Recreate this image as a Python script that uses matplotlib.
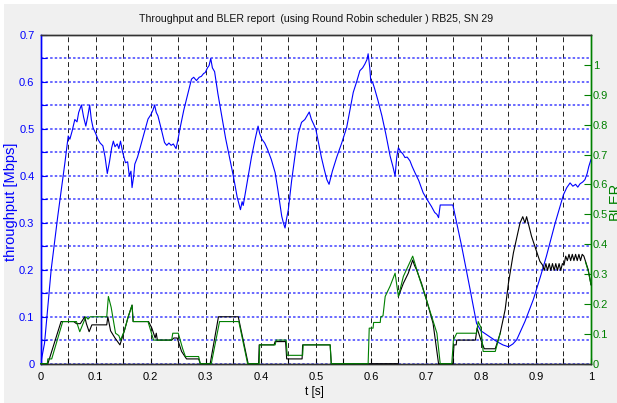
import matplotlib
matplotlib.use('Agg')
import matplotlib.pyplot as plt
from matplotlib.patches import Rectangle
from matplotlib.ticker import FixedLocator

# ---------------- data ----------------
title_text = "Throughput and BLER report  (using Round Robin scheduler ) RB25, SN 29"
x_label = "t [s]"
y_label_left = "throughput [Mbps]"
y_label_right = "BLER"

x_ticks = [0, 0.1, 0.2, 0.3, 0.4, 0.5, 0.6, 0.7, 0.8, 0.9, 1.0]
x_tick_labels = ["0", "0.1", "0.2", "0.3", "0.4", "0.5", "0.6", "0.7", "0.8", "0.9", "1"]
x_grid_minor = [0.05, 0.15, 0.25, 0.35, 0.45, 0.55, 0.65, 0.75, 0.85, 0.95]
left_ticks = [0, 0.1, 0.2, 0.3, 0.4, 0.5, 0.6, 0.7]
left_tick_labels = ["0", "0.1", "0.2", "0.3", "0.4", "0.5", "0.6", "0.7"]
left_grid_minor = [0.05, 0.15, 0.25, 0.35, 0.45, 0.55, 0.65]
right_ticks = [0, 0.1, 0.2, 0.3, 0.4, 0.5, 0.6, 0.7, 0.8, 0.9, 1.0]
right_tick_labels = ["0", "0.1", "0.2", "0.3", "0.4", "0.5", "0.6", "0.7", "0.8", "0.9", "1"]

# throughput [Mbps] (left axis)
t_thr = [0, 0.007, 0.019, 0.031, 0.044, 0.05, 0.053, 0.057, 0.062, 0.066, 0.069, 0.074, 0.078,
         0.082, 0.086, 0.089, 0.092, 0.095, 0.1, 0.104, 0.108, 0.113, 0.117, 0.121, 0.125, 0.129,
         0.132, 0.135, 0.139, 0.142, 0.145, 0.149, 0.154, 0.158, 0.161, 0.164, 0.166, 0.169, 0.171,
         0.176, 0.183, 0.189, 0.195, 0.2, 0.204, 0.207, 0.21, 0.213, 0.219, 0.225, 0.229, 0.233,
         0.237, 0.241, 0.246, 0.249, 0.253, 0.26, 0.268, 0.274, 0.278, 0.283, 0.288, 0.292, 0.296,
         0.299, 0.303, 0.306, 0.309, 0.312, 0.316, 0.322, 0.329, 0.336, 0.343, 0.35, 0.357, 0.363,
         0.366, 0.368, 0.375, 0.383, 0.39, 0.395, 0.398, 0.402, 0.407, 0.412, 0.419, 0.426, 0.431,
         0.438, 0.441, 0.444, 0.447, 0.45, 0.456, 0.462, 0.468, 0.474, 0.48, 0.485, 0.488, 0.492,
         0.496, 0.5, 0.505, 0.51, 0.515, 0.52, 0.524, 0.53, 0.538, 0.547, 0.556, 0.562, 0.568,
         0.574, 0.58, 0.585, 0.589, 0.593, 0.595, 0.598, 0.6, 0.603, 0.607, 0.613, 0.62, 0.627,
         0.635, 0.64, 0.644, 0.647, 0.65, 0.654, 0.658, 0.662, 0.666, 0.671, 0.675, 0.68, 0.687,
         0.695, 0.702, 0.71, 0.716, 0.72, 0.723, 0.726, 0.735, 0.749, 0.765, 0.78, 0.792, 0.8,
         0.815, 0.829, 0.84, 0.85, 0.858, 0.865, 0.88, 0.895, 0.908, 0.919, 0.935, 0.95, 0.956,
         0.962, 0.967, 0.972, 0.976, 0.98, 0.985, 0.989, 0.993, 0.996, 1.0]
throughput = [0, 0.044, 0.2, 0.314, 0.428, 0.485, 0.478, 0.495, 0.52, 0.515, 0.535, 0.551, 0.525,
              0.506, 0.53, 0.551, 0.52, 0.503, 0.49, 0.478, 0.47, 0.464, 0.44, 0.405, 0.43, 0.46,
              0.474, 0.462, 0.468, 0.458, 0.474, 0.45, 0.428, 0.43, 0.4, 0.41, 0.375, 0.4, 0.425,
              0.44, 0.47, 0.495, 0.521, 0.53, 0.54, 0.551, 0.535, 0.528, 0.5, 0.471, 0.465, 0.47,
              0.465, 0.468, 0.458, 0.475, 0.5, 0.54, 0.578, 0.606, 0.61, 0.603, 0.61, 0.612, 0.618,
              0.62, 0.63, 0.635, 0.65, 0.63, 0.622, 0.575, 0.528, 0.48, 0.44, 0.4, 0.355, 0.328,
              0.345, 0.337, 0.385, 0.44, 0.48, 0.506, 0.49, 0.478, 0.47, 0.457, 0.435, 0.407, 0.37,
              0.314, 0.3, 0.289, 0.31, 0.328, 0.39, 0.442, 0.49, 0.514, 0.52, 0.53, 0.536, 0.52,
              0.51, 0.499, 0.47, 0.44, 0.415, 0.392, 0.382, 0.41, 0.44, 0.47, 0.503, 0.54, 0.578,
              0.6, 0.624, 0.63, 0.638, 0.648, 0.66, 0.63, 0.599, 0.6, 0.585, 0.56, 0.528, 0.49,
              0.442, 0.42, 0.4, 0.44, 0.46, 0.452, 0.447, 0.439, 0.44, 0.432, 0.42, 0.407, 0.39,
              0.364, 0.35, 0.335, 0.322, 0.318, 0.311, 0.338, 0.338, 0.338, 0.25, 0.16, 0.086, 0.07,
              0.058, 0.047, 0.04, 0.036, 0.042, 0.051, 0.09, 0.136, 0.185, 0.229, 0.3, 0.36, 0.375,
              0.385, 0.378, 0.382, 0.376, 0.383, 0.387, 0.392, 0.405, 0.42, 0.435]

# BLER, black curve (right axis)
t_bler_black = [0, 0.013, 0.037, 0.06, 0.065, 0.072, 0.08, 0.083, 0.088, 0.093, 0.12, 0.122, 0.127,
                0.135, 0.144, 0.152, 0.159, 0.166, 0.168, 0.196, 0.202, 0.208, 0.21, 0.212, 0.238,
                0.242, 0.248, 0.256, 0.265, 0.287, 0.29, 0.308, 0.323, 0.359, 0.377, 0.396, 0.397,
                0.424, 0.426, 0.445, 0.447, 0.475, 0.476, 0.526, 0.528, 0.649, 0.6495, 0.65, 0.659,
                0.668, 0.676, 0.679, 0.683, 0.692, 0.701, 0.713, 0.723, 0.749, 0.751, 0.755, 0.756,
                0.79, 0.793, 0.8, 0.806, 0.826, 0.835, 0.844, 0.85, 0.859, 0.871, 0.876, 0.88, 0.883,
                0.892, 0.907, 0.912, 0.915, 0.918, 0.921, 0.924, 0.927, 0.93, 0.933, 0.936, 0.939,
                0.942, 0.945, 0.948, 0.951, 0.954, 0.957, 0.96, 0.963, 0.966, 0.969, 0.972, 0.975,
                0.978, 0.981, 0.984, 0.987, 0.995, 1.0]
bler_black = [0, 0, 0.141, 0.141, 0.134, 0.134, 0.157, 0.134, 0.107, 0.13, 0.13, 0.157, 0.11,
              0.086, 0.063, 0.11, 0.157, 0.196, 0.141, 0.141, 0.119, 0.086, 0.102, 0.079, 0.079,
              0.086, 0.086, 0.041, 0.016, 0.016, 0, 0, 0.157, 0.157, 0, 0, 0.063,
              0.063, 0.074, 0.074, 0.016, 0.016, 0.063, 0.063, 0, 0, float('nan'), 0.225, 0.269,
              0.303, 0.347, 0.33, 0.314, 0.269, 0.214, 0.135, 0, 0, 0.063, 0.063, 0.079,
              0.079, 0.119, 0.079, 0.05, 0.05, 0.102, 0.181, 0.27, 0.371, 0.471, 0.492, 0.471, 0.492,
              0.426, 0.343, 0.33, 0.312, 0.335, 0.312, 0.335, 0.312, 0.335, 0.312, 0.335, 0.312,
              0.335, 0.312, 0.335, 0.33, 0.36, 0.345, 0.366, 0.345, 0.366, 0.345, 0.366, 0.345,
              0.366, 0.345, 0.366, 0.36, 0.314, 0.264]

# BLER, green curve (right axis)
t_bler_green = [0, 0.012, 0.013, 0.02, 0.04, 0.065, 0.071, 0.082, 0.086, 0.09, 0.12, 0.123, 0.128,
                0.136, 0.142, 0.145, 0.152, 0.159, 0.166, 0.168, 0.195, 0.205, 0.238, 0.24, 0.25,
                0.258, 0.263, 0.287, 0.29, 0.31, 0.325, 0.36, 0.376, 0.397, 0.398, 0.426, 0.428,
                0.446, 0.448, 0.476, 0.477, 0.526, 0.528, 0.595, 0.597, 0.604, 0.605, 0.617, 0.618,
                0.622, 0.626, 0.635, 0.644, 0.65, 0.659, 0.676, 0.689, 0.701, 0.72, 0.726, 0.747,
                0.75, 0.756, 0.792, 0.795, 0.8, 0.804, 0.826, 0.835, 0.836, 0.99, 0.995, 1.0]
bler_green = [0, 0, 0.016, 0.016, 0.141, 0.141, 0.107, 0.157, 0.149, 0.157, 0.157, 0.225, 0.189,
              0.102, 0.094, 0.079, 0.11, 0.157, 0.196, 0.141, 0.141, 0.079, 0.079, 0.102, 0.102,
              0.05, 0.024, 0.024, 0, 0, 0.141, 0.141, 0, 0, 0.063, 0.063, 0.079,
              0.079, 0.028, 0.028, 0.063, 0.063, 0, 0, 0.119, 0.119, 0.138, 0.138, 0.157,
              0.16, 0.225, 0.26, 0.303, 0.225, 0.292, 0.36, 0.281, 0.214, 0.102, 0, 0,
              0.079, 0.102, 0.102, 0.141, 0.121, 0.041, 0.041, 0.102, float('nan'), 0.34, 0.31, 0.265]

# ---------------- style ----------------
BLUE = (0.0, 0.0, 1.0)
GREEN = (0.0, 0.5, 0.0)
FONT = ['Liberation Sans', 'DejaVu Sans']
plt.rcParams['font.family'] = FONT

W, H = 617, 403
X0, X1, Y0, Y1 = 40.7, 591.0, 35.0, 363.7

fig = plt.figure(figsize=(W / 100, H / 100), dpi=100, facecolor='white')
fig.patches.append(Rectangle((4 / W, 0), 1, 1 - 4 / H, transform=fig.transFigure,
                             facecolor='#f0f0f0', edgecolor='none', zorder=-10))

ax = fig.add_axes([X0 / W, 1 - Y1 / H, (X1 - X0) / W, (Y1 - Y0) / H])
ax.set_facecolor('white')
ax2 = ax.twinx()

ax.set_xlim(0, 1)
ax.set_ylim(0, 0.7)
ax2.set_ylim(0, 1.1)

# grid
ax.xaxis.set_major_locator(FixedLocator(x_ticks))
ax.xaxis.set_minor_locator(FixedLocator(x_grid_minor))
ax.set_xticklabels(x_tick_labels)
ax.yaxis.set_major_locator(FixedLocator(left_ticks))
ax.yaxis.set_minor_locator(FixedLocator(left_grid_minor))
ax.set_yticklabels(left_tick_labels)
ax.grid(True, axis='x', which='both', color='#222222', linestyle=(0, (5, 3.5)), linewidth=0.7)
ax.grid(True, axis='y', which='both', color=(0.25, 0.25, 1.0), linestyle=(0, (1.6, 1.4)), linewidth=1.1)

ax2.set_yticks(right_ticks)
ax2.set_yticklabels(right_tick_labels)

# ticks
ax.tick_params(axis='x', which='both', direction='in', length=4, width=0.8, colors='black',
               labelsize=8, pad=6)
ax.tick_params(axis='y', which='both', direction='in', length=4, width=0.8, colors=BLUE,
               labelsize=8, pad=4.5, right=False)
ax2.tick_params(axis='y', which='both', direction='in', length=5, width=0.8, colors=GREEN,
                labelsize=8, pad=1.5)

# spines
for a in (ax, ax2):
    a.spines['top'].set_color('#333333')
    a.spines['bottom'].set_color('#333333')
    a.spines['left'].set_color(BLUE)
    a.spines['right'].set_color(GREEN)
    for s in a.spines.values():
        s.set_linewidth(1.0)

# data
ax.plot(t_thr, throughput, color=BLUE, linewidth=0.8, zorder=3)
ax2.plot(t_bler_black, bler_black, color='black', linewidth=0.8, zorder=3, clip_on=False)
ax2.plot(t_bler_green, bler_green, color=GREEN, linewidth=0.8, zorder=4, clip_on=False)

# labels
ax.set_title(title_text, fontsize=7.6, pad=9, color='#111111')
ax.set_xlabel(x_label, fontsize=8.5, color='black')
ax.xaxis.set_label_coords((314 - X0) / (X1 - X0), (Y1 - 386) / (Y1 - Y0))
ax.set_ylabel(y_label_left, fontsize=10.5, color=BLUE)
ax.yaxis.set_label_coords((18 - X0) / (X1 - X0), (Y1 - 202) / (Y1 - Y0))
ax2.set_ylabel(y_label_right, fontsize=10.5, color=GREEN)
ax2.yaxis.set_label_coords((608 - X0) / (X1 - X0), (Y1 - 201) / (Y1 - Y0))

fig.savefig('out.png', dpi=100, facecolor=fig.get_facecolor())
